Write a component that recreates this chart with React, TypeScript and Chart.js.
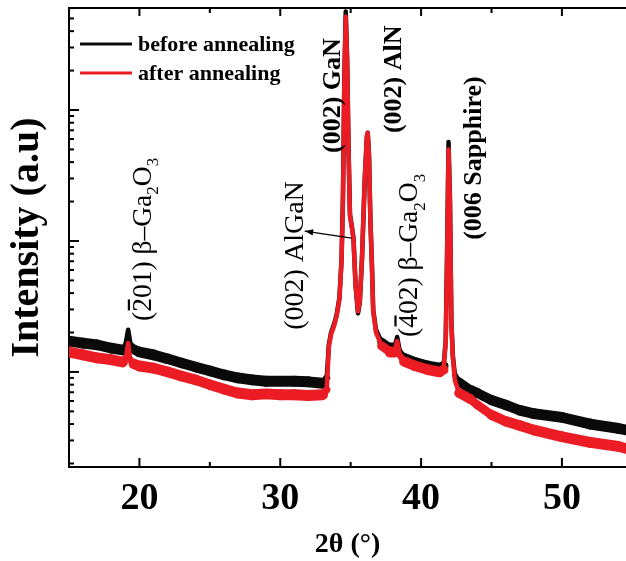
import React, { useEffect, useRef } from 'react';
import { Chart, registerables } from 'chart.js';

Chart.register(...registerables);

// ---------- data ----------
const beforeAngle = [15, 16, 17, 18, 18.8, 19.0, 19.2, 19.4, 19.7, 20, 21, 22, 23, 24, 25, 26, 27, 28, 29, 30, 31, 32, 33, 33.3, 33.45, 33.6, 33.8, 34.0, 34.2, 34.35, 34.45, 34.55, 34.65, 34.75, 34.85, 34.95, 35.07, 35.2, 35.35, 35.52, 35.65, 35.8, 36.0, 36.15, 36.21, 36.3, 36.4, 36.5, 36.6, 36.8, 37.2, 37.8, 38.1, 38.3, 38.5, 38.8, 39.5, 40.5, 41.3, 41.6, 41.75, 41.85, 41.95, 42.05, 42.15, 42.25, 42.4, 42.7, 43.5, 44, 45, 46, 47, 48, 50, 52, 54, 54.6];
const beforeIntensity = [1.72, 1.66, 1.61, 1.52, 1.47, 1.6, 2.1, 1.56, 1.47, 1.42, 1.35, 1.26, 1.17, 1.09, 1.02, 0.95, 0.9, 0.87, 0.85, 0.85, 0.85, 0.84, 0.82, 0.9, 1.61, 1.98, 2.28, 2.72, 3.67, 7.1, 20.6, 170, 565, 240, 50, 16, 13.2, 10.5, 4.6, 2.8, 3.4, 7.1, 29, 62, 67, 45, 14.5, 7.1, 2.97, 2.09, 1.69, 1.52, 1.52, 1.85, 1.42, 1.28, 1.19, 1.11, 1.07, 1.11, 1.75, 8.5, 57, 20.5, 2.49, 1.35, 0.95, 0.84, 0.73, 0.69, 0.61, 0.56, 0.51, 0.48, 0.45, 0.4, 0.37, 0.36];

const afterAngle = [15, 16, 17, 18, 18.8, 19.05, 19.2, 19.35, 19.6, 20, 21, 22, 23, 24, 25, 26, 27, 28, 29, 30, 31, 32, 33, 33.3, 33.45, 33.6, 33.8, 34.0, 34.2, 34.35, 34.45, 34.55, 34.65, 34.75, 34.85, 34.95, 35.07, 35.2, 35.35, 35.52, 35.65, 35.8, 36.0, 36.15, 36.21, 36.3, 36.4, 36.5, 36.6, 36.8, 37.2, 37.8, 38.1, 38.3, 38.5, 38.8, 39.5, 40.5, 41.3, 41.6, 41.75, 41.85, 41.95, 42.05, 42.15, 42.25, 42.4, 42.7, 43.5, 44, 45, 46, 47, 48, 50, 52, 54, 54.6];
const afterIntensity = [1.42, 1.35, 1.28, 1.24, 1.19, 1.3, 1.66, 1.24, 1.15, 1.11, 1.07, 1.0, 0.93, 0.87, 0.8, 0.74, 0.69, 0.67, 0.68, 0.67, 0.67, 0.66, 0.67, 0.73, 1.55, 1.92, 2.2, 2.65, 3.6, 7.0, 20, 165, 515, 230, 48, 15.5, 13, 10.3, 4.5, 2.9, 3.5, 7.2, 30, 63, 67, 46, 14.5, 7.0, 2.9, 2.0, 1.58, 1.42, 1.42, 1.72, 1.33, 1.2, 1.12, 1.04, 1.0, 1.04, 1.7, 8.2, 50, 20, 2.4, 1.3, 0.86, 0.69, 0.62, 0.56, 0.47, 0.42, 0.39, 0.36, 0.32, 0.29, 0.27, 0.26];

const seriesLabels = ['before annealing', 'after annealing'];
const seriesColors = ['#0a0a0a', '#ec1c24'];

const xTickValues = [20, 30, 40, 50];
const xMinorTickValues = [25, 35, 45];
const xMin = 15;
const xMax = 54.55;
const yMin = 0.188;
const yMax = 601;

const xTitle = '2θ (°)';
const yTitle = 'Intensity (a.u)';

type Seg = { t: string; b?: boolean; sub?: boolean; bar?: boolean };
// peak annotations: angle / intensity where the rotated text starts, font size
const peakLabels: { x: number; y: number; size: number; segs: Seg[] }[] = [
  { x: 20.11, y: 2.45, size: 27.5, segs: [{ t: '(' }, { t: '2', bar: true }, { t: '01) β–Ga' }, { t: '2', sub: true }, { t: 'O' }, { t: '3', sub: true }] },
  { x: 30.89, y: 2.1, size: 28, segs: [{ t: '(002) AlGaN' }] },
  { x: 33.58, y: 47, size: 26, segs: [{ t: '(002) GaN', b: true }] },
  { x: 37.9, y: 66.7, size: 26, segs: [{ t: '(002) AlN', b: true }] },
  { x: 39.04, y: 1.85, size: 27.5, segs: [{ t: '(' }, { t: '4', bar: true }, { t: '02) β–Ga' }, { t: '2', sub: true }, { t: 'O' }, { t: '3', sub: true }] },
  { x: 43.58, y: 10.2, size: 26, segs: [{ t: '(006 Sapphire)', b: true }] },
];
const arrowFrom = { x: 35.07, y: 10.5 };
const arrowTo = { x: 31.74, y: 11.9 };

const SERIF = '"Liberation Serif", "Times New Roman", serif';

function drawRich(ctx: CanvasRenderingContext2D, x: number, y: number, segs: Seg[], size: number) {
  ctx.save();
  ctx.translate(x, y);
  ctx.rotate(-Math.PI / 2);
  ctx.textBaseline = 'alphabetic';
  ctx.textAlign = 'left';
  ctx.fillStyle = '#000';
  ctx.strokeStyle = '#000';
  let cx = 0;
  const base = size * 0.35;
  for (const s of segs) {
    const fs = s.sub ? size * 0.62 : size;
    ctx.font = `${s.b ? 'bold ' : ''}${fs}px ${SERIF}`;
    const dy = s.sub ? size * 0.28 : 0;
    ctx.fillText(s.t, cx, base + dy);
    const w = ctx.measureText(s.t).width;
    if (s.bar) {
      ctx.lineWidth = 2.2;
      ctx.beginPath();
      const by = base - size * 0.68 - 3;
      ctx.moveTo(cx + w * 0.1, by);
      ctx.lineTo(cx + w * 0.9, by);
      ctx.stroke();
    }
    cx += w;
  }
  ctx.restore();
}

const decorPlugin = {
  id: 'decor',
  afterDatasetsDraw(chart: any) {
    const { ctx, chartArea: ca, scales } = chart;
    const xs = scales.x;
    const ys = scales.y;
    ctx.save();
    ctx.strokeStyle = '#000';
    ctx.lineWidth = 2;
    const line = (x1: number, y1: number, x2: number, y2: number) => {
      ctx.beginPath();
      ctx.moveTo(x1, y1);
      ctx.lineTo(x2, y2);
      ctx.stroke();
    };
    // top frame
    line(ca.left, ca.top, ca.right, ca.top);
    // x ticks (inward) bottom and top
    for (const v of xTickValues) {
      const px = xs.getPixelForValue(v);
      line(px, ca.bottom, px, ca.bottom - 9);
      line(px, ca.top, px, ca.top + 8);
    }
    for (const v of xMinorTickValues) {
      const px = xs.getPixelForValue(v);
      line(px, ca.bottom, px, ca.bottom - 5);
      line(px, ca.top, px, ca.top + 5);
    }
    // y ticks (log, inward)
    for (let e = -1; e <= 3; e++) {
      for (let m = 1; m <= 9; m++) {
        const val = m * Math.pow(10, e);
        if (val < yMin || val > yMax) continue;
        const py = ys.getPixelForValue(val);
        line(ca.left, py, ca.left + (m === 1 ? 10 : 5), py);
      }
    }
    // peak labels
    for (const p of peakLabels) {
      drawRich(ctx, xs.getPixelForValue(p.x), ys.getPixelForValue(p.y), p.segs, p.size);
    }
    // arrow
    const ax1 = xs.getPixelForValue(arrowFrom.x);
    const ay1 = ys.getPixelForValue(arrowFrom.y);
    const ax2 = xs.getPixelForValue(arrowTo.x);
    const ay2 = ys.getPixelForValue(arrowTo.y);
    ctx.lineWidth = 1.2;
    line(ax1, ay1, ax2, ay2);
    const ang = Math.atan2(ay2 - ay1, ax2 - ax1);
    ctx.fillStyle = '#000';
    ctx.beginPath();
    ctx.moveTo(ax2, ay2);
    ctx.lineTo(ax2 - 9 * Math.cos(ang - 0.35), ay2 - 9 * Math.sin(ang - 0.35));
    ctx.lineTo(ax2 - 9 * Math.cos(ang + 0.35), ay2 - 9 * Math.sin(ang + 0.35));
    ctx.closePath();
    ctx.fill();
    // legend
    ctx.font = `bold 22px ${SERIF}`;
    ctx.textBaseline = 'alphabetic';
    ctx.textAlign = 'left';
    seriesLabels.forEach((lab, i) => {
      const ly = ca.top + 36 + i * 29;
      ctx.strokeStyle = seriesColors[i];
      ctx.lineWidth = 3;
      line(ca.left + 11, ly, ca.left + 63, ly);
      ctx.fillStyle = '#000';
      ctx.fillText(lab, ca.left + 69, ly + 7);
    });
    ctx.restore();
  },
};

export default function App() {
  const ref = useRef<HTMLCanvasElement | null>(null);
  useEffect(() => {
    if (!ref.current) return;
    const mk = (xa: number[], ya: number[]) => xa.map((x, i) => ({ x, y: ya[i] }));
    // noisy band of ~11px vertical thickness -> perpendicular width depends on slope
    const segWidth = (c: any) => {
      const dx = Math.abs(c.p1.x - c.p0.x);
      const dy = Math.abs(c.p1.y - c.p0.y);
      const len = Math.sqrt(dx * dx + dy * dy) || 1;
      return Math.max(4.5, 11 * (dx / len));
    };
    const common = {
      pointRadius: 0,
      tension: 0,
      borderWidth: 10,
      borderJoinStyle: 'round',
      borderCapStyle: 'round',
      segment: { borderWidth: segWidth },
    };
    const chart = new Chart(ref.current, {
      type: 'line',
      data: {
        datasets: [
          {
            ...common,
            label: seriesLabels[0],
            data: mk(beforeAngle, beforeIntensity),
            borderColor: seriesColors[0],
            order: 2,
          },
          {
            ...common,
            label: seriesLabels[1],
            data: mk(afterAngle, afterIntensity),
            borderColor: seriesColors[1],
            order: 1,
          },
        ],
      },
      options: {
        responsive: false,
        maintainAspectRatio: false,
        animation: false,
        layout: { padding: { top: 8, left: 0, right: 0, bottom: 0 } },
        plugins: { legend: { display: false }, tooltip: { enabled: false } },
        scales: {
          x: {
            type: 'linear',
            min: xMin,
            max: xMax,
            afterBuildTicks: (s: any) => {
              s.ticks = xTickValues.map((v) => ({ value: v }));
            },
            grid: { display: false, drawTicks: false },
            border: { display: true, color: '#000', width: 2 },
            ticks: {
              color: '#000',
              autoSkip: false,
              maxRotation: 0,
              padding: 9,
              font: { family: SERIF, size: 38, weight: 'bold' },
            },
            title: {
              display: true,
              text: xTitle,
              color: '#000',
              font: { family: SERIF, size: 28, weight: 'bold', lineHeight: 1 },
              padding: { top: 0, bottom: 2 },
            },
            afterFit: (s: any) => {
              s.height = 94;
            },
          },
          y: {
            type: 'logarithmic',
            min: yMin,
            max: yMax,
            ticks: { display: false },
            grid: { display: false, drawTicks: false },
            border: { display: true, color: '#000', width: 2 },
            title: {
              display: true,
              text: yTitle,
              color: '#000',
              font: { family: SERIF, size: 40, weight: 'bold', lineHeight: 1 },
              padding: { top: 8, bottom: 0 },
            },
            afterFit: (s: any) => {
              s.width = 69;
            },
          },
        },
      } as any,
      plugins: [decorPlugin],
    });
    return () => chart.destroy();
  }, []);
  return (
    <div style={{ position: 'fixed', left: 0, top: 0, width: 626, height: 561, background: '#fff' }}>
      <canvas ref={ref} width={626} height={561} style={{ display: 'block' }} />
    </div>
  );
}
